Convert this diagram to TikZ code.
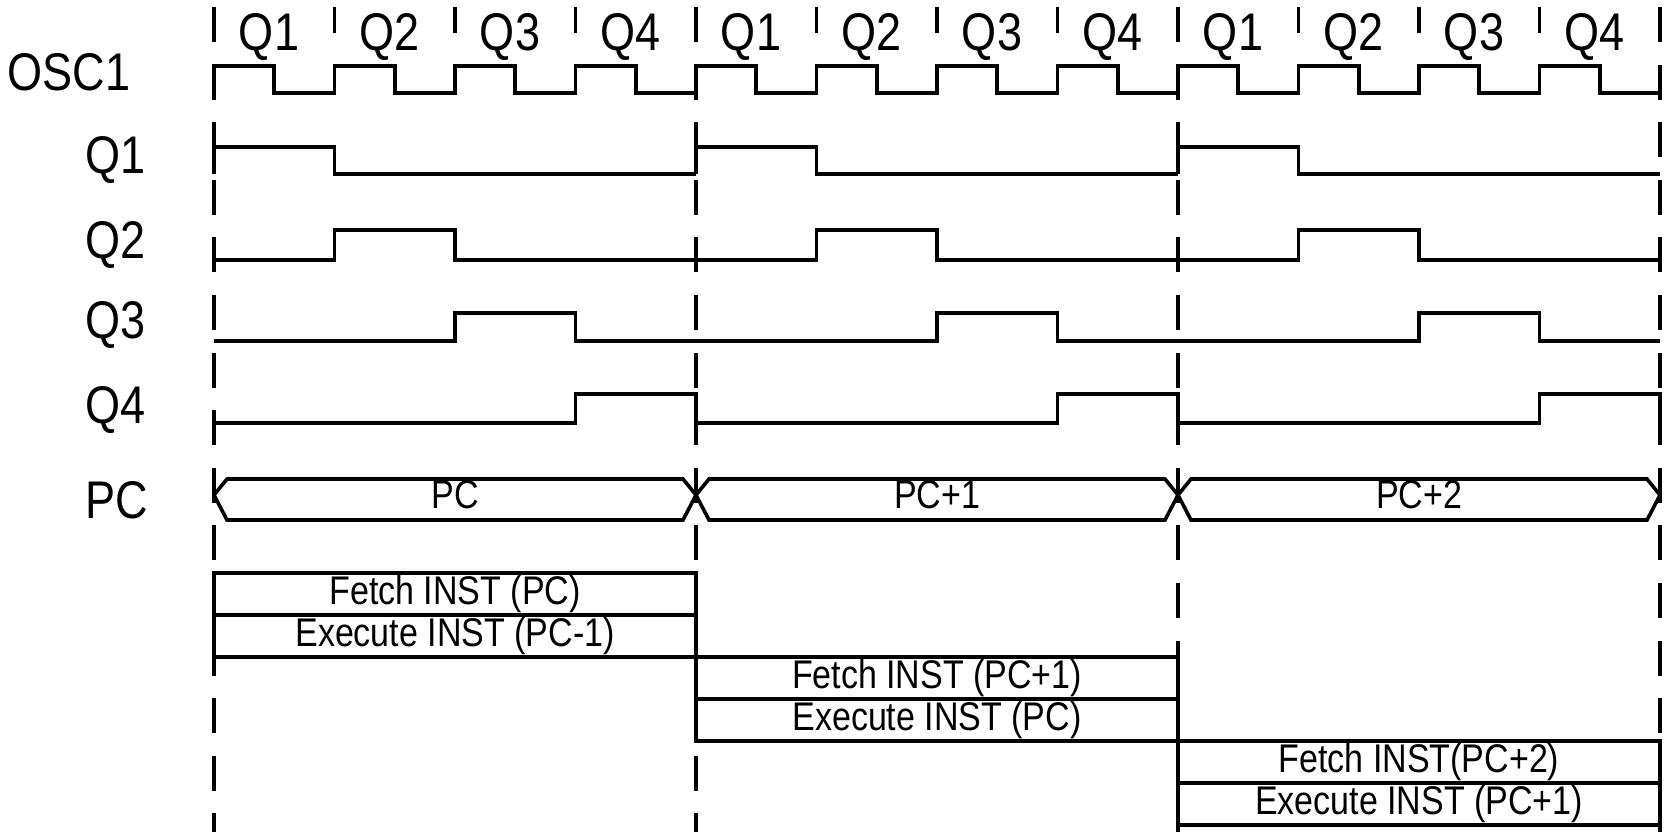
\documentclass[tikz,border=0pt]{standalone}
\usepackage{fontspec}
\setmainfont[FakeStretch=0.85]{Liberation Sans}
\usepackage{tikz}
\usetikzlibrary{positioning}
\tikzstyle{wave}=[line width=1.8pt,line join=miter]
\tikzstyle{guide}=[line width=1.8pt,dash pattern=on 17.5pt off 11.3pt]
\tikzstyle{siglabel}=[anchor=base west,inner sep=0pt,font=\fontsize{26.5}{30}\selectfont]
\tikzstyle{phase}=[anchor=base,inner sep=0pt,font=\fontsize{26.5}{30}\selectfont]
\tikzstyle{busval}=[anchor=base,inner sep=0pt,font=\fontsize{20}{22}\selectfont]
\tikzstyle{instbox}=[draw,line width=1.8pt,outer sep=0pt,inner sep=0pt,minimum width=241pt,minimum height=21pt,font=\fontsize{20}{22}\selectfont]

\begin{document}
\begin{tikzpicture}[x=0.5pt,y=-0.5pt]
\useasboundingbox (0,0) rectangle (1666,832);
\foreach \c in {0,...,3}
  \draw[guide] ({214+482*\c},7) -- ({214+482*\c},832);
\foreach \c in {0,1,2} {
  \foreach \k in {1,2,3}
    \draw[wave] ({214+482*\c+120.5*\k},7) -- ({214+482*\c+120.5*\k},33);
  \foreach \k in {1,...,4}
    \node[phase] (ph\c\k) at ({214+482*\c+120.5*(\k-1)+55},50) {Q\k};
}
\node[siglabel] (osc) at (7,90) {OSC1};
\node[siglabel] (q1) at (85,173) {Q1};
\node[siglabel] (q2) at (85,258) {Q2};
\node[siglabel] (q3) at (85,338) {Q3};
\node[siglabel] (q4) at (85,423) {Q4};
\node[siglabel] (pc) at (85,518) {PC};
\draw[wave] (214,93) \foreach \k in {0,...,11} { -- ++(0,-27) -- ++(60.25,0) -- ++(0,27) -- ++(60.25,0) };
\foreach \lo/\hi/\k in {174/147/0,260/230/1,341/313/2,423/394/3}
  \foreach \c in {0,1,2}
    \draw[wave] ({214+482*\c},\lo) -- ++({120.5*\k},0) -- ++(0,\hi-\lo) -- ++(120.5,0) -- ++(0,\lo-\hi) -- ({696+482*\c},\lo);
\foreach \c/\v in {0/PC,1/PC+1,2/PC+2} {
  \draw[wave] ({227+482*\c},479) -- ({683+482*\c},479) -- ({696+482*\c},495) -- ({683+482*\c},520) -- ({227+482*\c},520) -- ({214+482*\c},495) -- cycle;
  \node[busval] (pcv\c) at ({455+482*\c},508) {\v};
}
\node[instbox,anchor=north west] (fetch0) at (214,573) {Fetch INST (PC)};
\node[instbox,below=0pt of fetch0] (exec0) {Execute INST (PC-1)};
\node[instbox,anchor=north west] (fetch1) at (exec0.south east) {Fetch INST (PC+1)};
\node[instbox,below=0pt of fetch1] (exec1) {Execute INST (PC)};
\node[instbox,anchor=north west] (fetch2) at (exec1.south east) {Fetch INST(PC+2)};
\node[instbox,below=0pt of fetch2] (exec2) {Execute INST (PC+1)};
\end{tikzpicture}
\end{document}
